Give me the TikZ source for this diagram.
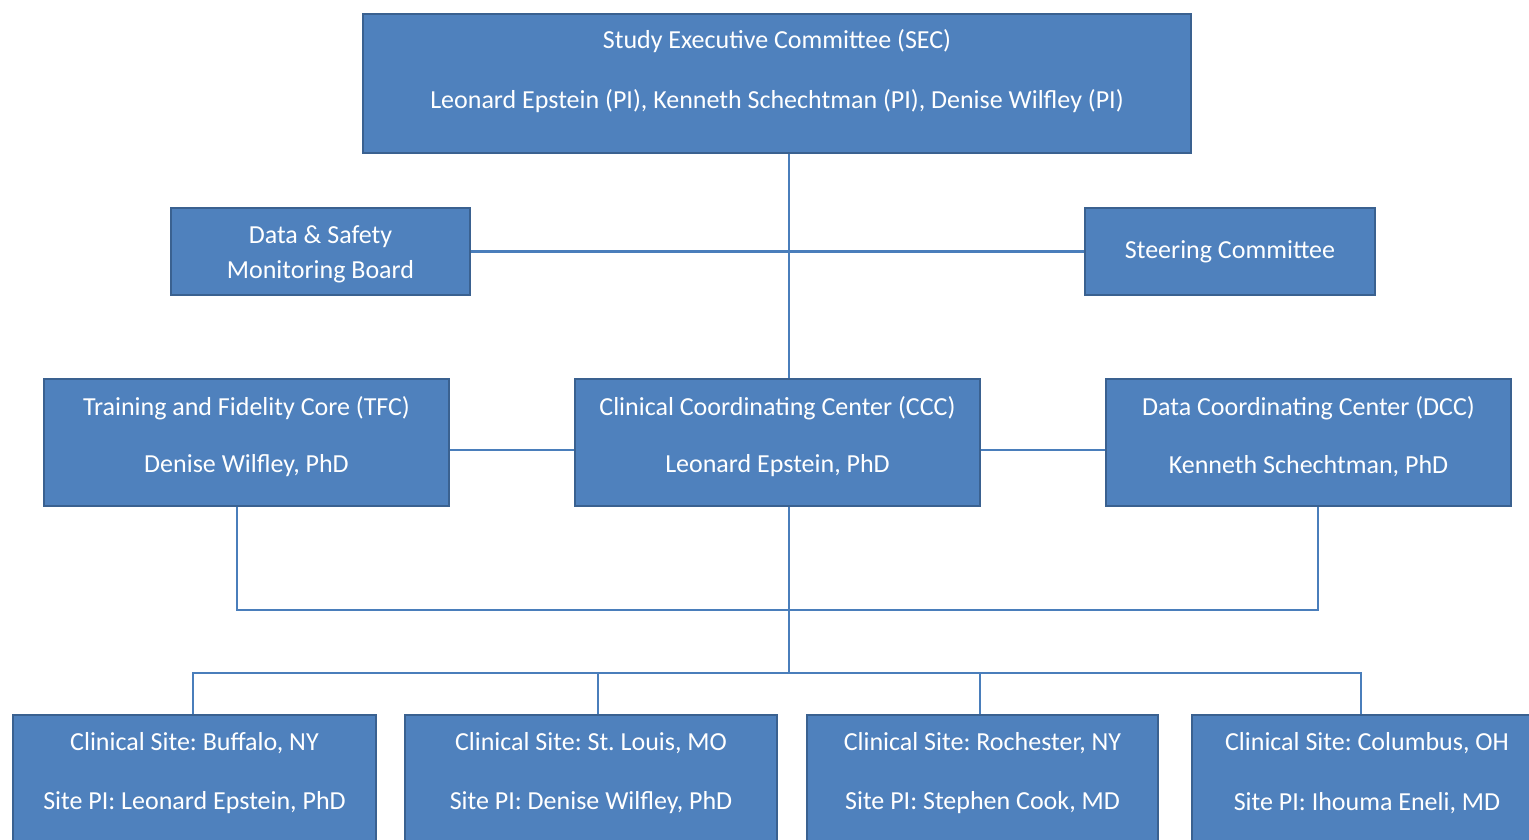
\documentclass[tikz,border=0pt]{standalone}
\usepackage{fontspec}
\setmainfont{Carlito}
\frenchspacing
\definecolor{boxfill}{HTML}{4F81BD}
\definecolor{boxborder}{HTML}{3A6190}
\definecolor{linkcol}{HTML}{4A7EBB}
\begin{document}
\begin{tikzpicture}[x=1pt,y=-1pt,
  box/.style={draw=boxborder, fill=boxfill, line width=2.8pt, inner sep=0pt, rectangle},
  txt/.style={text=white, font=\fontsize{26}{30}\selectfont, inner sep=0pt, align=center},
  link/.style={draw=linkcol, line width=2.2pt}]
\clip (0,0) rectangle (1529,840);
\fill[white] (0,0) rectangle (1529,840);
% boxes
\node[box, minimum width=828, minimum height=139] (sec) at (777,83.5) {};
\node[box, minimum width=299, minimum height=87] (dsmb) at (320.5,251.5) {};
\node[box, minimum width=290, minimum height=87] (steer) at (1230,251.5) {};
\node[box, minimum width=405, minimum height=127] (tfc) at (246.5,442.5) {};
\node[box, minimum width=405, minimum height=127] (ccc) at (777.5,442.5) {};
\node[box, minimum width=405, minimum height=127] (dcc) at (1308.5,442.5) {};
\node[box, minimum width=363, minimum height=160] (buf) at (194.5,795) {};
\node[box, minimum width=372, minimum height=160] (stl) at (591,795) {};
\node[box, minimum width=351, minimum height=160] (roc) at (982.5,795) {};
\node[box, minimum width=360, minimum height=160] (col) at (1372,795) {};
% texts
\node[txt] (sec1) at (777,41) {Study Executive Committee (SEC)};
\node[txt] (sec2) at (777,101) {Leonard Epstein (PI), Kenneth Schechtman (PI), Denise Wilfley (PI)};
\node[txt, font=\fontsize{26}{35}\selectfont] (dsmbt) at (320.5,254) {Data \& Safety\\Monitoring Board};
\node[txt] (steert) at (1230,252) {Steering Committee};
\node[txt] (tfc1) at (246.5,408) {Training and Fidelity Core (TFC)};
\node[txt] (tfc2) at (246.5,466) {Denise Wilfley, PhD};
\node[txt] (ccc1) at (777.5,408) {Clinical Coordinating Center (CCC)};
\node[txt] (ccc2) at (777.5,466) {Leonard Epstein, PhD};
\node[txt] (dcc1) at (1308.5,408) {Data Coordinating Center (DCC)};
\node[txt] (dcc2) at (1308.5,466) {Kenneth Schechtman, PhD};
\node[txt] (buf1) at (194.5,743) {Clinical Site: Buffalo, NY};
\node[txt] (buf2) at (194.5,803) {Site PI: Leonard Epstein, PhD};
\node[txt] (stl1) at (591,743) {Clinical Site: St. Louis, MO};
\node[txt] (stl2) at (591,803) {Site PI: Denise Wilfley, PhD};
\node[txt] (roc1) at (982.5,743) {Clinical Site: Rochester, NY};
\node[txt] (roc2) at (982.5,803) {Site PI: Stephen Cook, MD};
\node[txt] (col1) at (1367,743) {Clinical Site: Columbus, OH};
\node[txt] (col2) at (1367,803) {Site PI: Ihouma Eneli, MD};
% junction coordinates
\coordinate (j1) at (237,610);
\coordinate (j2) at (1318,610);
\coordinate (j3) at (193,673);
\coordinate (j4) at (1361,673);
\coordinate (jc) at (789,673);
% connectors
\draw[link] (sec.south -| jc) -- (ccc.north -| jc);
\draw[link] (dsmb.east) -- (steer.west);
\draw[link] ([yshift=-7.5]tfc.east) -- ([yshift=-7.5]ccc.west);
\draw[link] ([yshift=-7.5]ccc.east) -- ([yshift=-7.5]dcc.west);
\draw[link] (tfc.south -| j1) -- (j1) -- (j2) -- (dcc.south -| j2);
\draw[link] (ccc.south -| jc) -- (jc);
\draw[link] (buf.north -| j3) -- (j3) -- (j4) -- (col.north -| j4);
\draw[link] (jc -| stl.north) ++(7,0) coordinate (j5) (j5) -- (stl.north -| j5);
\draw[link] (jc -| roc.north) ++(-2.5,0) coordinate (j6) (j6) -- (roc.north -| j6);
\end{tikzpicture}
\end{document}
